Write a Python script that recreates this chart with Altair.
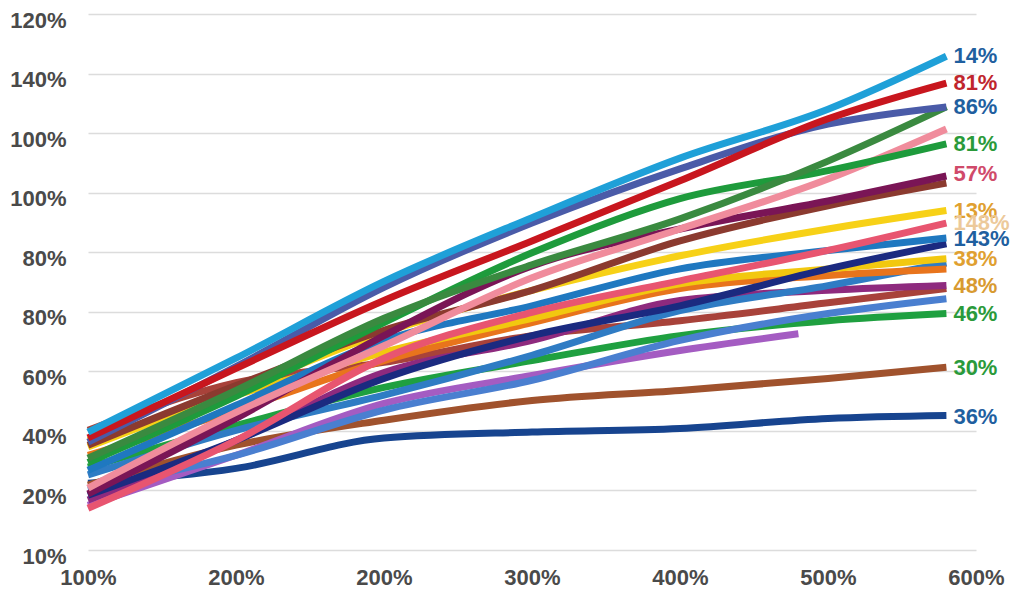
import altair as alt
import pandas as pd

# ---- axis tick positions and their (as-drawn) labels ----
x_ticks = [0, 1, 2, 3, 4, 5, 6]
x_tick_labels = ["100%", "200%", "200%", "300%", "400%", "500%", "600%"]
y_ticks = [0, 1, 2, 3, 4, 5, 6, 7, 8, 9]
y_tick_labels = ["10%", "20%", "40%", "60%", "80%", "80%", "100%", "100%", "140%", "120%"]

# ---- series (values in grid units) ----
xs = [0, 1, 2, 3, 4, 5, 5.8]
purple_xs = [0, 1, 2, 3, 4, 4.8]

series_names = [
    "darkblue", "brown", "purple", "green2", "bluemed", "brownred", "plum",
    "steel", "orange", "gold", "navy", "blue", "salmon", "yellow", "brown2",
    "maroon", "pinklight", "green", "forest", "slate", "crimson", "sky",
]
series_colors = [
    "#17448f", "#a0522d", "#a45cc2", "#1fa040", "#4a7fd0", "#a8423a", "#8e2a7e",
    "#2f7cc4", "#e8741c", "#f2c80f", "#1b2a80", "#1f78c0", "#e85570", "#f7d117", "#8b3a2f",
    "#7a1556", "#f08c9c", "#1e9b3c", "#3a8a40", "#4a5ba8", "#c8161e", "#1fa0d8",
]
darkblue  = [1.12, 1.37, 1.88, 1.98, 2.04, 2.21, 2.26]
brown     = [1.09, 1.76, 2.18, 2.51, 2.68, 2.88, 3.07]
purple    = [0.75, 1.59, 2.46, 2.93, 3.35, 3.63]
green2    = [1.39, 2.09, 2.73, 3.18, 3.60, 3.85, 3.97]
bluemed   = [1.01, 1.59, 2.35, 2.85, 3.52, 3.97, 4.22]
brownred  = [2.01, 2.81, 3.15, 3.60, 3.85, 4.15, 4.39]
plum      = [0.84, 1.84, 2.98, 3.52, 4.19, 4.36, 4.44]
steel     = [1.26, 2.01, 2.60, 3.27, 4.02, 4.44, 4.82]
orange    = [1.59, 2.35, 3.18, 3.82, 4.39, 4.61, 4.72]
gold      = [1.84, 2.60, 3.32, 3.89, 4.47, 4.72, 4.89]
navy      = [0.92, 1.84, 2.88, 3.60, 4.10, 4.72, 5.14]
blue      = [1.34, 2.43, 3.52, 4.10, 4.72, 5.03, 5.24]
salmon    = [0.70, 1.84, 3.22, 3.99, 4.52, 5.03, 5.49]
yellow    = [1.73, 2.68, 3.65, 4.36, 4.94, 5.39, 5.70]
brown2    = [1.76, 2.76, 3.69, 4.36, 5.19, 5.78, 6.16]
maroon    = [0.94, 2.21, 3.60, 4.77, 5.39, 5.86, 6.28]
pinklight = [1.04, 2.31, 3.43, 4.57, 5.39, 6.23, 7.07]
green     = [1.47, 2.58, 3.82, 4.99, 5.90, 6.37, 6.82]
forest    = [1.54, 2.68, 3.89, 4.79, 5.56, 6.53, 7.44]
slate     = [1.81, 3.08, 4.41, 5.49, 6.40, 7.15, 7.44]
crimson   = [1.88, 3.05, 4.19, 5.19, 6.20, 7.24, 7.84]
sky       = [1.98, 3.22, 4.51, 5.58, 6.58, 7.40, 8.29]

series_values = [
    darkblue, brown, purple, green2, bluemed, brownred, plum,
    steel, orange, gold, navy, blue, salmon, yellow, brown2,
    maroon, pinklight, green, forest, slate, crimson, sky,
]

# ---- end labels ----
end_x = 5.8
end_texts = ["14%", "81%", "86%", "81%", "57%", "13%", "148%", "143%", "38%", "48%", "46%", "30%", "36%"]
end_values = [8.29, 7.84, 7.44, 6.82, 6.32, 5.70, 5.49, 5.23, 4.89, 4.44, 3.97, 3.05, 2.24]
end_colors = ["#1f5f9f", "#c0252d", "#1f5f9f", "#2a9a3a", "#d04a6a", "#e0a030", "#ecc99a",
              "#1f5f9f", "#e0a030", "#d89a30", "#2a9a3a", "#2a9a3a", "#1f5f9f"]

rows = []
for i, (name, vals) in enumerate(zip(series_names, series_values)):
    xv = purple_xs if name == "purple" else xs
    for x, y in zip(xv, vals):
        rows.append({"series": name, "k": i, "x": x, "y": y})
df = pd.DataFrame(rows)

lab_df = pd.DataFrame({"x": [end_x] * len(end_texts), "y": end_values,
                       "t": end_texts, "c": end_colors})

FONT = "Liberation Sans"
x_expr = "[" + ",".join("'%s'" % s for s in x_tick_labels) + "][datum.value]"
y_expr = "[" + ",".join("'%s'" % s for s in y_tick_labels) + "][datum.value]"

x_enc = alt.X("x:Q", scale=alt.Scale(domain=[0, 6], nice=False, zero=False),
              axis=alt.Axis(values=x_ticks, labelExpr=x_expr, grid=False, domain=False,
                            ticks=False, tickSize=0, labelPadding=27, labelBaseline="middle",
                            labelFontSize=22, labelFont=FONT, labelFontWeight="bold",
                            labelColor="#4a4a4a", title=None, labelFlush=False))
y_enc = alt.Y("y:Q", scale=alt.Scale(domain=[0, 9], nice=False, zero=False),
              axis=alt.Axis(values=y_ticks, labelExpr=y_expr, grid=True, gridColor="#dcdcdc",
                            gridWidth=1.5, domain=False, ticks=False, tickSize=0,
                            labelPadding=22, labelOffset=6, labelFontSize=22, labelFont=FONT,
                            labelFontWeight="bold", labelColor="#4a4a4a", title=None,
                            labelFlush=False))

lines = alt.Chart(df).mark_line(strokeWidth=7, interpolate="monotone", strokeCap="butt").encode(
    x=x_enc, y=y_enc,
    color=alt.Color("series:N", scale=alt.Scale(domain=series_names, range=series_colors),
                    legend=None, sort=series_names),
    detail="k:O",
)

labels = alt.Chart(lab_df).mark_text(align="left", baseline="middle", dx=7, fontSize=22,
                                     font=FONT, fontWeight="bold").encode(
    x="x:Q", y="y:Q", text="t:N", color=alt.Color("c:N", scale=None),
)

chart = alt.layer(lines, labels).properties(
    width=888, height=536,
    padding={"left": 80, "top": 6, "right": 40, "bottom": 40},
    autosize=alt.AutoSizeParams(type="none"),
    background="white",
).configure_view(stroke=None)

chart.save("out.html", embed_options={"renderer": "svg", "actions": False})
